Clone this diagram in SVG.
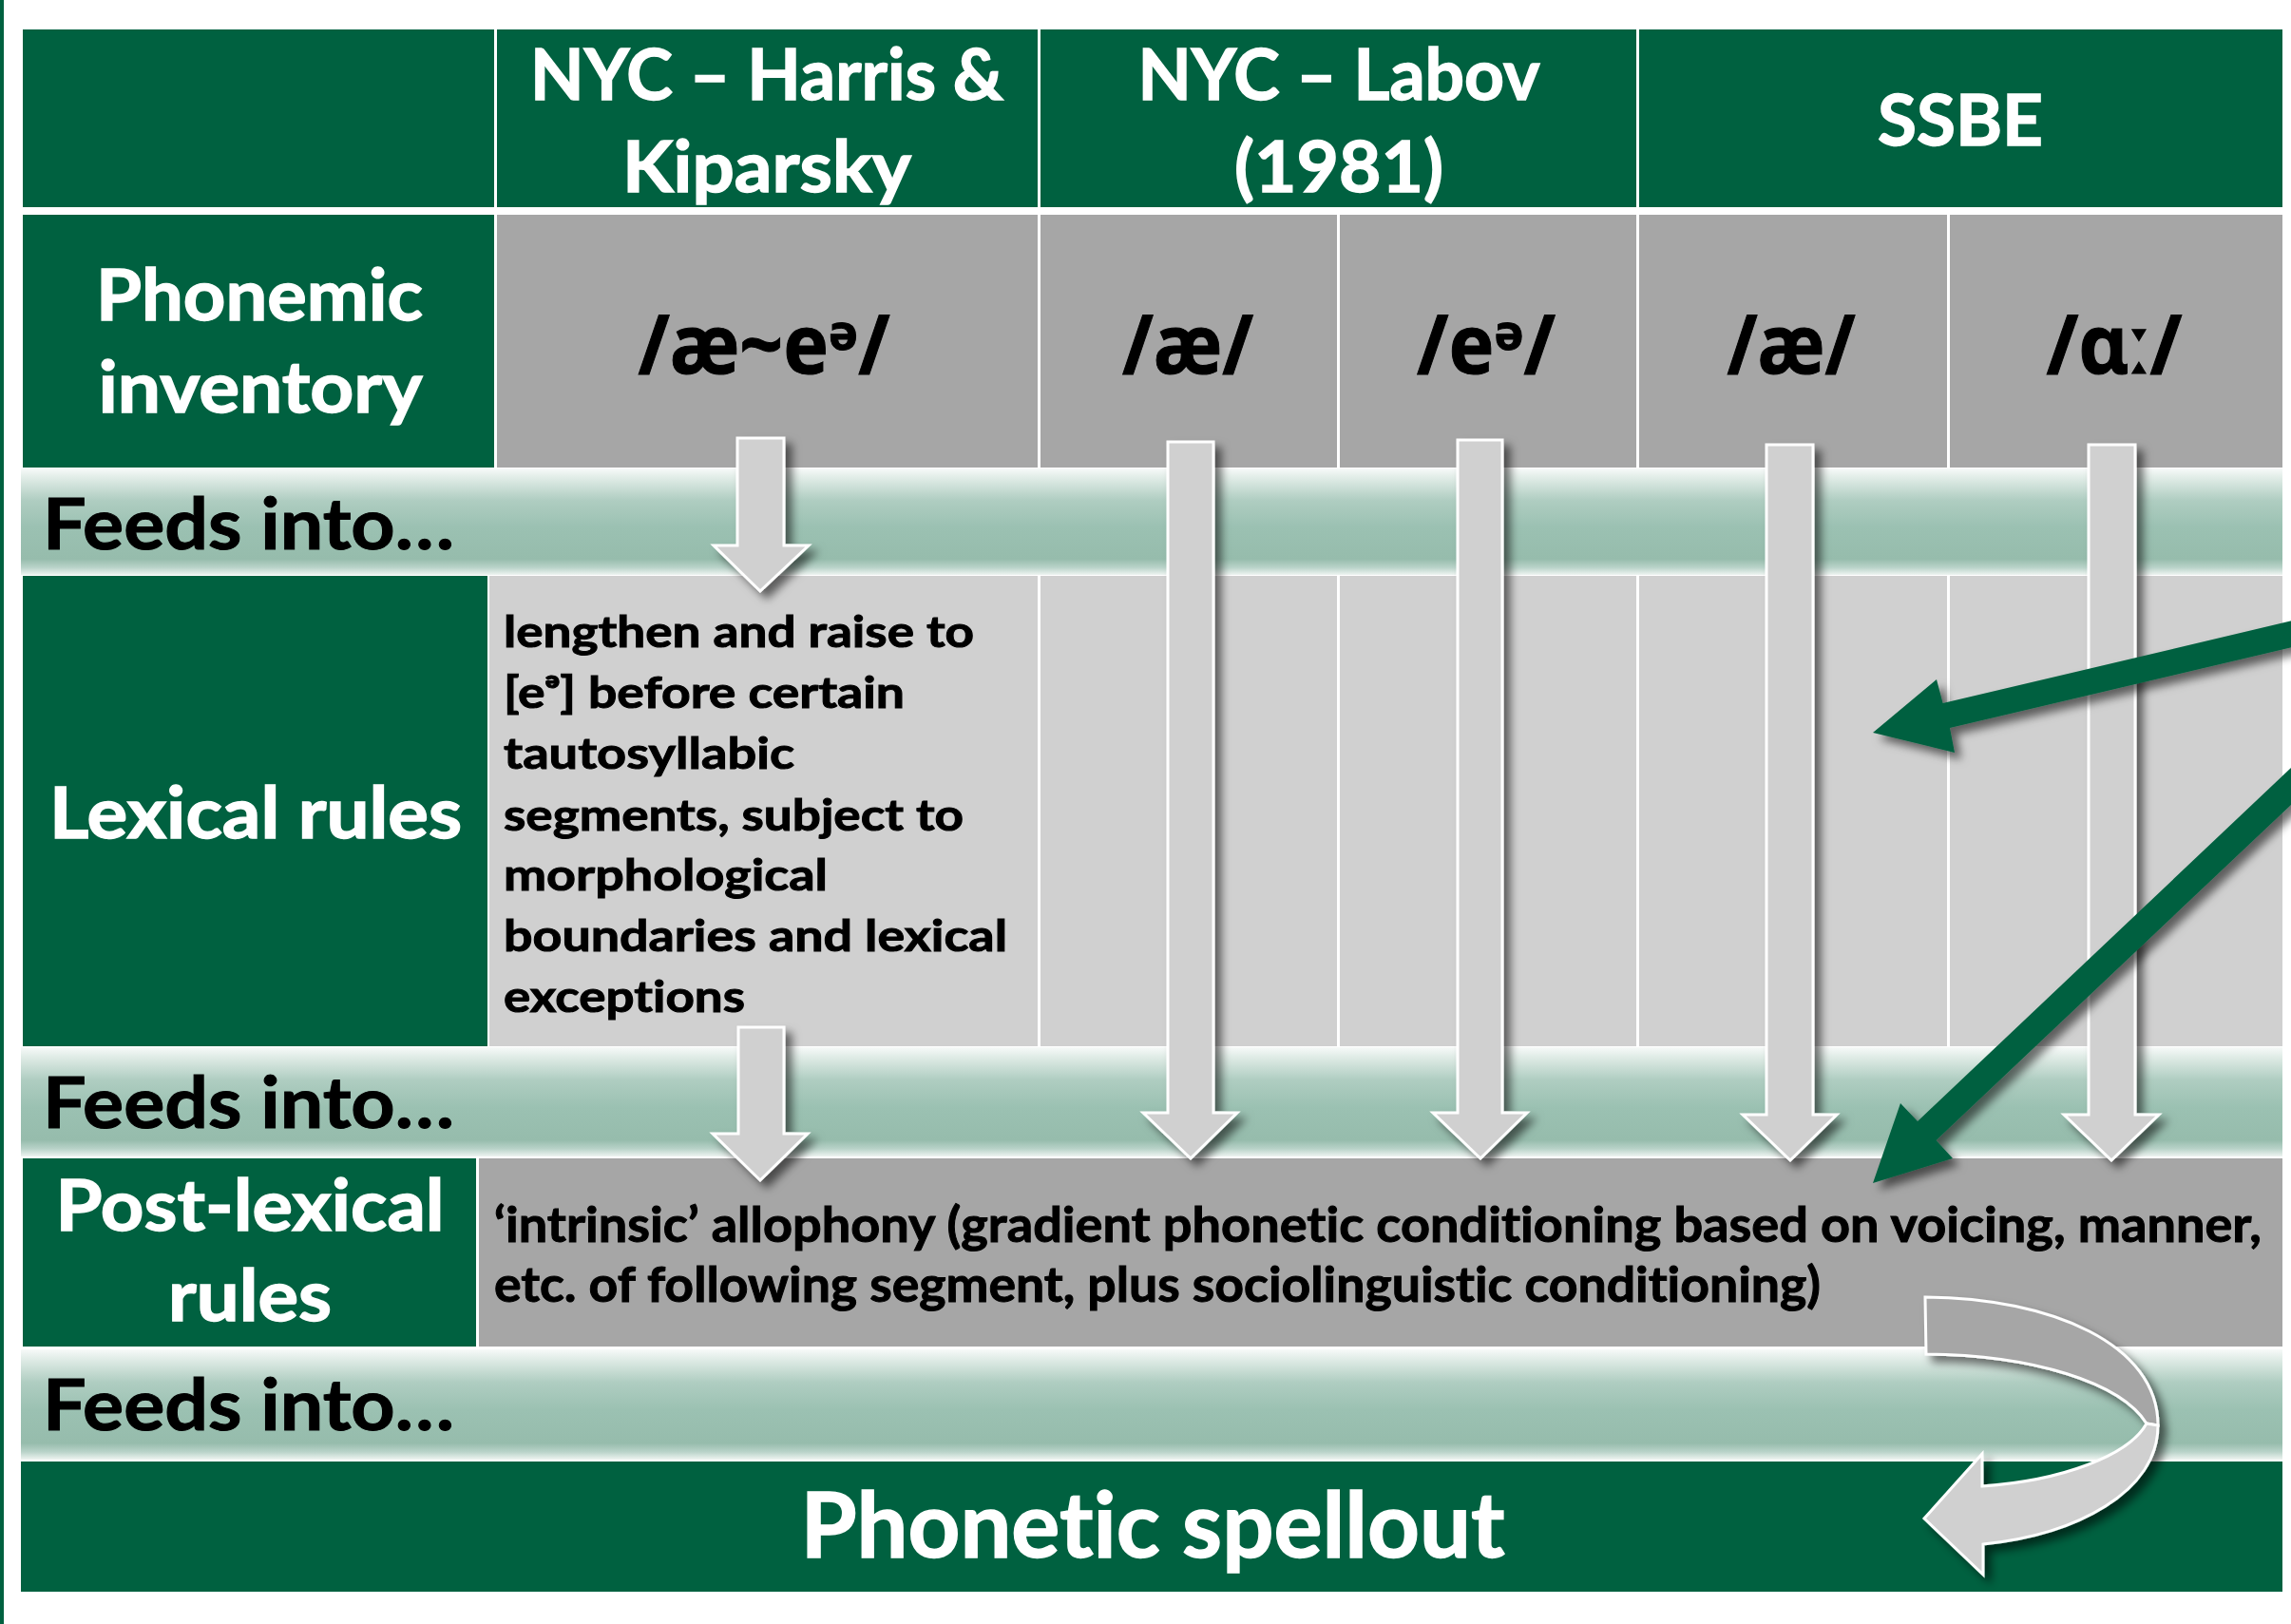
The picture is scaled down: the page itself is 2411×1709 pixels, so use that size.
<svg xmlns="http://www.w3.org/2000/svg" width="2411" height="1709" viewBox="0 0 2411 1709">
<defs>
<linearGradient id="band" x1="0" y1="0" x2="0" y2="1">
<stop offset="0" stop-color="#f7faf9"/>
<stop offset="0.08" stop-color="#e2ede8"/>
<stop offset="0.3" stop-color="#afcdc1"/>
<stop offset="0.55" stop-color="#9bc1b2"/>
<stop offset="0.85" stop-color="#96bcac"/>
<stop offset="0.93" stop-color="#b9d3c9"/>
<stop offset="1" stop-color="#eef4f1"/>
</linearGradient>
<filter id="sh" x="-20%" y="-20%" width="150%" height="150%">
<feDropShadow dx="7" dy="7" stdDeviation="5" flood-color="#000" flood-opacity="0.55"/>
</filter>
</defs>
<style>
.g{fill:#006140}
.dg{fill:#a6a6a6}
.lg{fill:#d0d0d0}
.band{fill:url(#band)}
text{font-family:Lato,"Noto Sans","DejaVu Sans",sans-serif;font-weight:700;font-variant-ligatures:none}
.w{fill:#fff;stroke:#fff;stroke-width:1.4}
.k{fill:#000;stroke:#000;stroke-width:1}
.c{text-anchor:middle}
.hd{font-size:74px}
.ipa{font-family:"Noto Sans","DejaVu Sans",sans-serif;font-weight:700;font-size:86px}
.feed{font-size:74px}
.lex{font-size:46px}
.post{font-size:52px}
.big{font-size:95px}
.ga{fill:#d0d0d0;stroke:#fff;stroke-width:3;filter:url(#sh)}
.gb{fill:#a6a6a6;stroke:#fff;stroke-width:3;filter:url(#sh)}
.gr{fill:#006140;filter:url(#sh)}
</style>
<rect x="0" y="0" width="2411" height="1709" fill="#fff"/>
<rect class="g" x="0" y="0" width="4" height="1709"/>

<g id="header">
<g id="hdr-corner"><rect class="g" x="24" y="31" width="496" height="187"/></g>
<g id="hdr-harris"><rect class="g" x="523" y="31" width="569" height="187"/>
<text class="w c hd" x="807" y="105" textLength="498" lengthAdjust="spacingAndGlyphs">NYC – Harris &amp;</text>
<text class="w c hd" x="807" y="202" textLength="304" lengthAdjust="spacingAndGlyphs">Kiparsky</text></g>
<g id="hdr-labov"><rect class="g" x="1095" y="31" width="627" height="187"/>
<text class="w c hd" x="1409" y="105" textLength="423" lengthAdjust="spacingAndGlyphs">NYC – Labov</text>
<text class="w c hd" x="1409" y="202" textLength="220" lengthAdjust="spacingAndGlyphs">(1981)</text></g>
<g id="hdr-ssbe"><rect class="g" x="1725" y="31" width="677" height="187"/>
<text class="w c hd" x="2063" y="153" textLength="174" lengthAdjust="spacingAndGlyphs">SSBE</text></g>
</g>

<g id="row-phonemic">
<g id="lbl-phonemic"><rect class="g" x="24" y="226" width="496" height="266"/>
<text class="w c hd" x="273" y="337" textLength="344" lengthAdjust="spacingAndGlyphs">Phonemic</text>
<text class="w c hd" x="274" y="434" textLength="341" lengthAdjust="spacingAndGlyphs">inventory</text></g>
<g id="ph-harris"><rect class="dg" x="523" y="226" width="569" height="266"/>
<text class="k c ipa" x="804" y="393" textLength="265" lengthAdjust="spacingAndGlyphs">/æ~eᵊ/</text></g>
<g id="ph-labov-ae"><rect class="dg" x="1095" y="226" width="312" height="266"/>
<text class="k c ipa" x="1250" y="393" textLength="138" lengthAdjust="spacingAndGlyphs">/æ/</text></g>
<g id="ph-labov-e"><rect class="dg" x="1410" y="226" width="312" height="266"/>
<text class="k c ipa" x="1564" y="393" textLength="146" lengthAdjust="spacingAndGlyphs">/eᵊ/</text></g>
<g id="ph-ssbe-ae"><rect class="dg" x="1725" y="226" width="324" height="266"/>
<text class="k c ipa" x="1885" y="393" textLength="135" lengthAdjust="spacingAndGlyphs">/æ/</text></g>
<g id="ph-ssbe-a"><rect class="dg" x="2052" y="226" width="350" height="266"/>
<text class="k c ipa" x="2225" y="393" textLength="143" lengthAdjust="spacingAndGlyphs">/ɑː/</text></g>
</g>

<g id="band-1"><rect class="band" x="22" y="493" width="2380" height="112"/>
<text class="k feed" x="45" y="578" textLength="433" lengthAdjust="spacingAndGlyphs">Feeds into…</text></g>

<g id="row-lexical">
<g id="lbl-lexical"><rect class="g" x="24" y="606" width="489" height="495"/>
<text class="w c hd" x="269" y="882" textLength="434" lengthAdjust="spacingAndGlyphs">Lexical rules</text></g>
<g id="lex-harris"><rect class="lg" x="515" y="606" width="577" height="495"/>
<text class="k lex" x="530" y="681" textLength="495" lengthAdjust="spacingAndGlyphs">lengthen and raise to</text>
<text class="k lex" x="530" y="745" textLength="422" lengthAdjust="spacingAndGlyphs">[eᵊ] before certain</text>
<text class="k lex" x="530" y="809" textLength="306" lengthAdjust="spacingAndGlyphs">tautosyllabic</text>
<text class="k lex" x="530" y="874" textLength="484" lengthAdjust="spacingAndGlyphs">segments, subject to</text>
<text class="k lex" x="530" y="937" textLength="341" lengthAdjust="spacingAndGlyphs">morphological</text>
<text class="k lex" x="530" y="1001" textLength="530" lengthAdjust="spacingAndGlyphs">boundaries and lexical</text>
<text class="k lex" x="530" y="1065" textLength="254" lengthAdjust="spacingAndGlyphs">exceptions</text></g>
<g id="lex-c2"><rect class="lg" x="1095" y="606" width="312" height="495"/></g>
<g id="lex-c3"><rect class="lg" x="1410" y="606" width="312" height="495"/></g>
<g id="lex-c4"><rect class="lg" x="1725" y="606" width="324" height="495"/></g>
<g id="lex-c5"><rect class="lg" x="2052" y="606" width="350" height="495"/></g>
</g>

<g id="band-2"><rect class="band" x="22" y="1102" width="2380" height="115"/>
<text class="k feed" x="45" y="1187" textLength="433" lengthAdjust="spacingAndGlyphs">Feeds into…</text></g>

<g id="row-postlexical">
<g id="lbl-post"><rect class="g" x="24" y="1219" width="477" height="198"/>
<text class="w c hd" x="263" y="1295" textLength="409" lengthAdjust="spacingAndGlyphs">Post-lexical</text>
<text class="w c hd" x="263" y="1390" textLength="172" lengthAdjust="spacingAndGlyphs">rules</text></g>
<g id="post-cell"><rect class="dg" x="504" y="1219" width="1898" height="198"/>
<text class="k post" x="520" y="1307" textLength="1860" lengthAdjust="spacingAndGlyphs">‘intrinsic’ allophony (gradient phonetic conditioning based on voicing, manner,</text>
<text class="k post" x="520" y="1370" textLength="1396" lengthAdjust="spacingAndGlyphs">etc. of following segment, plus sociolinguistic conditioning)</text></g>
</g>

<g id="band-3"><rect class="band" x="22" y="1420" width="2380" height="116"/>
<text class="k feed" x="45" y="1505" textLength="433" lengthAdjust="spacingAndGlyphs">Feeds into…</text></g>

<g id="phonetic-spellout"><rect class="g" x="22" y="1538" width="2380" height="137"/>
<text class="w c big" x="1213" y="1639" textLength="741" lengthAdjust="spacingAndGlyphs">Phonetic spellout</text></g>

<g id="connectors">
<path class="ga" d="M776,461 H825 V574 H851 L800,622 L751,574 H776 Z"/>
<path class="ga" d="M777,1081 H825 V1193 H850 L800,1242 L750,1193 H777 Z"/>
<path class="ga" d="M1229,465 H1277 V1171 H1302 L1253,1219 L1203,1171 H1229 Z"/>
<path class="ga" d="M1534,463 H1581 V1171 H1607 L1558,1219 L1508,1171 H1534 Z"/>
<path class="ga" d="M1859,468 H1908 V1173 H1933 L1884,1221 L1834,1173 H1859 Z"/>
<path class="ga" d="M2198,468 H2247 V1173 H2272 L2222,1221 L2172,1173 H2198 Z"/>
<path class="gr" d="M1971,771 L2038,715 L2044.6,740 L2430,649 L2430,677 L2052,766 L2057,792 Z"/>
<path class="gr" d="M1971,1245 L2000,1161 L2018,1180 L2430,790 L2430,829 L2037.5,1200 L2055,1219 Z"/>
<path class="gb" d="M2026,1365 C2160,1366 2271,1415 2271,1500 L2259,1498 C2232,1455 2140,1426 2027,1425 Z"/>
<path class="ga" d="M2271,1500 C2271,1570 2185,1615 2087,1625 L2087,1657 L2025,1598 L2086,1530 L2086,1564 C2170,1558 2240,1532 2259,1498 Z"/>
</g>
</svg>
